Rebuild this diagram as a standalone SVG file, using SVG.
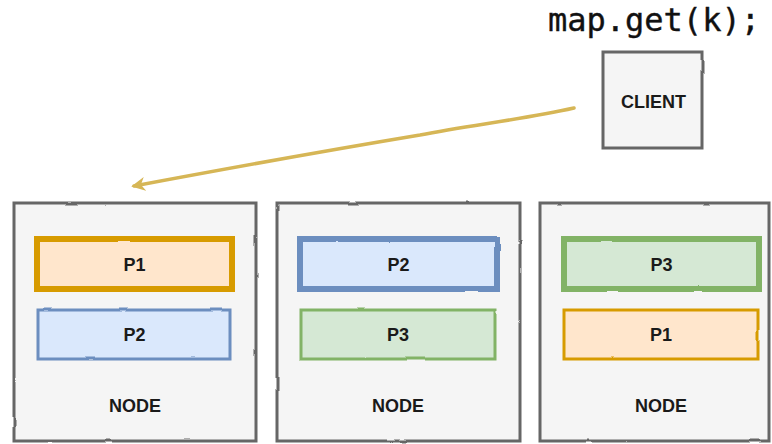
<svg xmlns="http://www.w3.org/2000/svg" width="772" height="444" viewBox="0 0 772 444">
<style>
.node{fill:#f5f5f5;stroke:#666666;stroke-width:3}
.p1{fill:#ffe6cc;stroke:#d79b00}
.p2{fill:#dae8fc;stroke:#6c8ebf}
.p3{fill:#d5e8d4;stroke:#82b366}
.thick{stroke-width:6}
.thin{stroke-width:3}
.lbl{font-family:"Liberation Sans",Arial,sans-serif;font-weight:bold;font-size:18px;fill:#1a1a1a;text-anchor:middle;dominant-baseline:central}
.code{font-family:"DejaVu Sans Mono","Liberation Mono",monospace;font-size:32px;fill:#111;stroke:#111;stroke-width:0.4}
.sk{filter:url(#rough)}
</style>
<defs>
<filter id="rough" x="-5%" y="-5%" width="110%" height="110%">
<feTurbulence type="fractalNoise" baseFrequency="0.035" numOctaves="2" seed="3" result="n"/>
<feDisplacementMap in="SourceGraphic" in2="n" scale="2" xChannelSelector="R" yChannelSelector="G"/>
</filter>
<marker id="arr" viewBox="0 0 10 10" refX="8" refY="5" markerWidth="4" markerHeight="4" orient="auto-start-reverse" markerUnits="strokeWidth">
<path d="M0,0 L10,5 L0,10 L3,5 Z" fill="#d6b656"/>
</marker>
</defs>
<rect width="772" height="444" fill="#ffffff"/>
<text class="code" x="548" y="31">map.get(k);</text>
<g id="client">
<rect class="node sk" x="603" y="52" width="99" height="96"/>
<text class="lbl" x="653.5" y="102">CLIENT</text>
</g>
<g id="connectors">
<path d="M574,108 C520,120 470,125 420,135 C330,150 230,168 134,186" fill="none" stroke="#d6b656" stroke-width="3.5" stroke-linecap="round" marker-end="url(#arr)"/>
</g>
<g id="node1">
<rect class="node sk" x="14" y="203" width="242" height="238"/>
<rect class="p1 thick sk" x="37" y="239" width="195" height="50"/>
<text class="lbl" x="134.5" y="264.5">P1</text>
<rect class="p2 thin sk" x="38" y="310" width="192" height="49"/>
<text class="lbl" x="134.5" y="334.5">P2</text>
<text class="lbl" x="135" y="405.5">NODE</text>
</g>
<g id="node2">
<rect class="node sk" x="277" y="203" width="243" height="238"/>
<rect class="p2 thick sk" x="300" y="239" width="197" height="50"/>
<text class="lbl" x="398.5" y="264.5">P2</text>
<rect class="p3 thin sk" x="301" y="310" width="194" height="49"/>
<text class="lbl" x="398" y="334.5">P3</text>
<text class="lbl" x="398" y="405.5">NODE</text>
</g>
<g id="node3">
<rect class="node sk" x="540" y="203" width="229" height="238"/>
<rect class="p3 thick sk" x="564" y="239" width="195" height="50"/>
<text class="lbl" x="661.5" y="264.5">P3</text>
<rect class="p1 thin sk" x="564" y="310" width="194" height="49"/>
<text class="lbl" x="661" y="334.5">P1</text>
<text class="lbl" x="661" y="405.5">NODE</text>
</g>
</svg>
